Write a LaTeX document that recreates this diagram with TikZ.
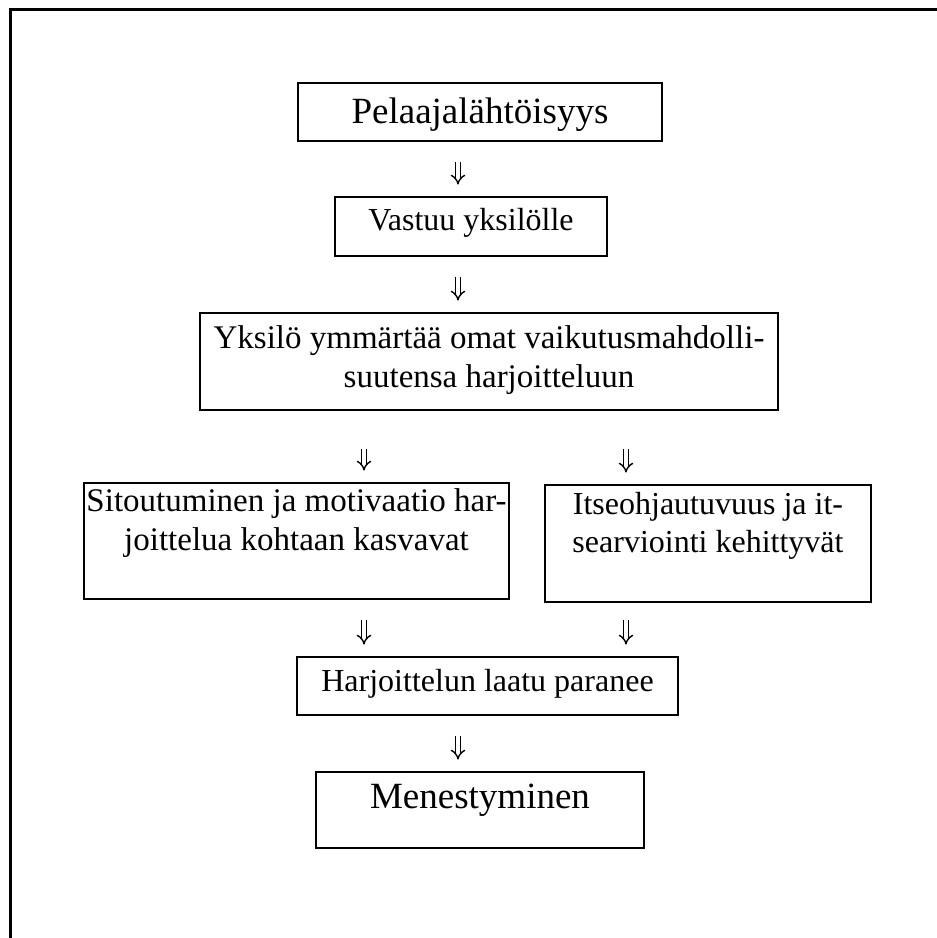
\documentclass[tikz,border=0pt]{standalone}
\usepackage{fontspec}
\setmainfont{Liberation Serif}
\usetikzlibrary{arrows.meta}

\begin{document}
\begin{tikzpicture}[x=1pt, y=-1pt,
	box/.style={draw, line width=2.8pt, inner sep=0pt, anchor=base, align=center,
		font=\fontsize{32}{37.7}\selectfont},
	widebox/.style={box, font=\fontsize{33}{38.5}\selectfont},
	bigbox/.style={box, font=\fontsize{37}{42.5}\selectfont},
	dn/.style={double, double distance=3.6pt, line width=1.4pt, -{Implies},
		shorten <=20pt, shorten >=11pt}]
	\useasboundingbox (0,0) rectangle (937,938);
	\draw[line width=3pt] (10,938) -- (10,9) -- (937,9);
	
	\coordinate (mid) at (458,0);
	\coordinate (lft) at (364,0);
	\coordinate (rgt) at (626,0);
	
	% boxes, each placed at the baseline of its last line
	\node[bigbox, minimum width=364pt, text height=40pt, text depth=18pt] (pelaaja) at (480,123) {Pelaajalähtöisyys};
	\node[box, minimum width=272pt, text height=33pt, text depth=26pt] (vastuu) at (471,230) {Vastuu yksilölle};
	\node[widebox, minimum width=578pt, text height=74pt, text depth=23pt] (ymmarrys) at (489,387) {Yksilö ymmärtää omat vaikutusmahdolli-\\suutensa harjoitteluun};
	\node[widebox, minimum width=425pt, text height=67pt, text depth=49pt] (sitoutuminen) at (296.5,550) {Sitoutuminen ja motivaatio har-\\joittelua kohtaan kasvavat};
	\node[box, minimum width=326pt, text height=67pt, text depth=50pt] (itseohjaus) at (708,552) {Itseohjautuvuus ja it-\\searviointi kehittyvät};
	\node[box, minimum width=381pt, text height=34pt, text depth=24pt] (laatu) at (487.5,691) {Harjoittelun laatu paranee};
	\node[bigbox, minimum width=328pt, text height=36pt, text depth=40pt] (menestys) at (480,808) {Menestyminen};
	
	% arrows
	\draw[dn] (pelaaja.south -| mid) -- (vastuu.north -| mid);
	\draw[dn] (vastuu.south -| mid) -- (ymmarrys.north -| mid);
	\draw[dn, shorten <=38pt] (ymmarrys.south -| lft) -- (sitoutuminen.north -| lft);
	\draw[dn, shorten <=38pt] (ymmarrys.south -| rgt) -- (itseohjaus.north -| rgt);
	\draw[dn] (sitoutuminen.south -| lft) -- (laatu.north -| lft);
	\draw[dn, shorten <=17pt] (itseohjaus.south -| rgt) -- (laatu.north -| rgt);
	\draw[dn] (laatu.south -| mid) -- (menestys.north -| mid);
\end{tikzpicture}
\end{document}
